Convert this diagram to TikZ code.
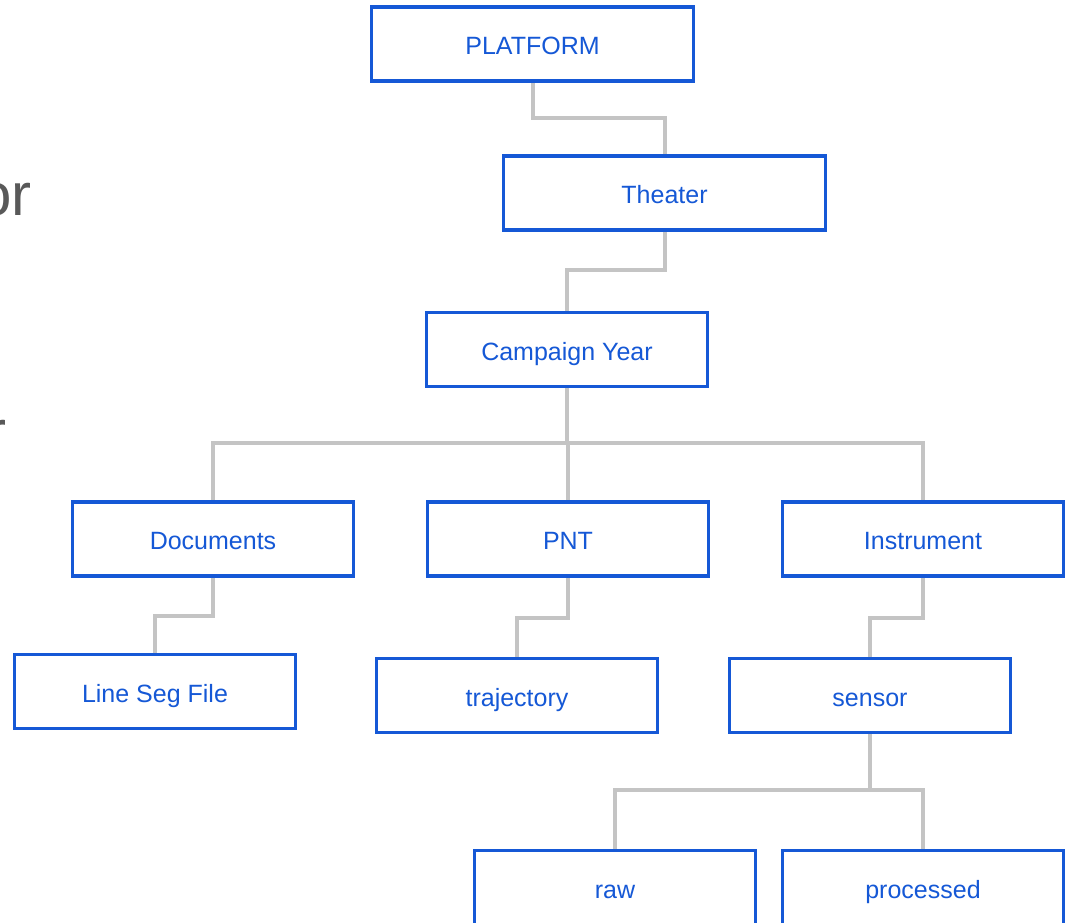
\documentclass[tikz,border=0pt]{standalone}
\usepackage{fontspec}
\usetikzlibrary{backgrounds}
\setmainfont{Liberation Sans}
\definecolor{boxblue}{HTML}{1558D6}
\definecolor{linkgray}{HTML}{C4C4C4}
\definecolor{bodygray}{HTML}{595959}
\begin{document}
\begin{tikzpicture}[x=1pt,y=-1pt,
  treebox/.style={draw=boxblue, line width=3.5pt, fill=white, text=boxblue,
    minimum height=74pt, minimum width=281pt, inner sep=0pt,
    text height=21pt, text depth=0pt,
    font=\fontsize{25}{29}\selectfont},
  widebox/.style={treebox, minimum width=322pt},
  link/.style={draw=linkgray, line width=4pt},
  bodytext/.style={anchor=base east, inner sep=0pt, text=bodygray,
    font=\fontsize{60}{70}\selectfont}]
\useasboundingbox (0,0) rectangle (1074,922);
\clip (0,0) rectangle (1074,922);

% fragments of body text running in from the left edge
\node[bodytext] (frag1) at (32,215) {or};
\node[bodytext] (frag2) at (7,452) {r};

% tree boxes
\node[widebox] (plat) at (532.5,44) {PLATFORM};
\node[widebox] (theater) at (664.5,193) {Theater};
\node[treebox] (camp) at (567,349.5) {Campaign Year};
\node[treebox] (docs) at (213,539) {Documents};
\node[treebox] (pnt) at (568,539) {PNT};
\node[treebox] (instr) at (923,539) {Instrument};
\node[treebox] (lineseg) at (155,691.5) {Line Seg File};
\node[treebox] (traj) at (517,695.5) {trajectory};
\node[treebox] (sensor) at (870,695.5) {sensor};
\node[treebox] (raw) at (615,887.5) {raw};
\node[treebox] (proc) at (923,887.5) {processed};

% elbow connectors behind the boxes
\begin{scope}[on background layer]
\path[link] (plat.south) -- (plat.south |- 0,118) -| (theater.north);
\path[link] (theater.south) -- (theater.south |- 0,270) -| (camp.north);
\path[link] (camp.south) -- (camp.south |- 0,443) -| (docs.north);
\path[link] (camp.south) -- (camp.south |- 0,443) -| (pnt.north);
\path[link] (camp.south) -- (camp.south |- 0,443) -| (instr.north);
\path[link] (docs.south) -- (docs.south |- 0,616) -| (lineseg.north);
\path[link] (pnt.south) -- (pnt.south |- 0,618) -| (traj.north);
\path[link] (instr.south) -- (instr.south |- 0,618) -| (sensor.north);
\path[link] (sensor.south) -- (sensor.south |- 0,790) -| (raw.north);
\path[link] (sensor.south) -- (sensor.south |- 0,790) -| (proc.north);
\end{scope}
\end{tikzpicture}
\end{document}
